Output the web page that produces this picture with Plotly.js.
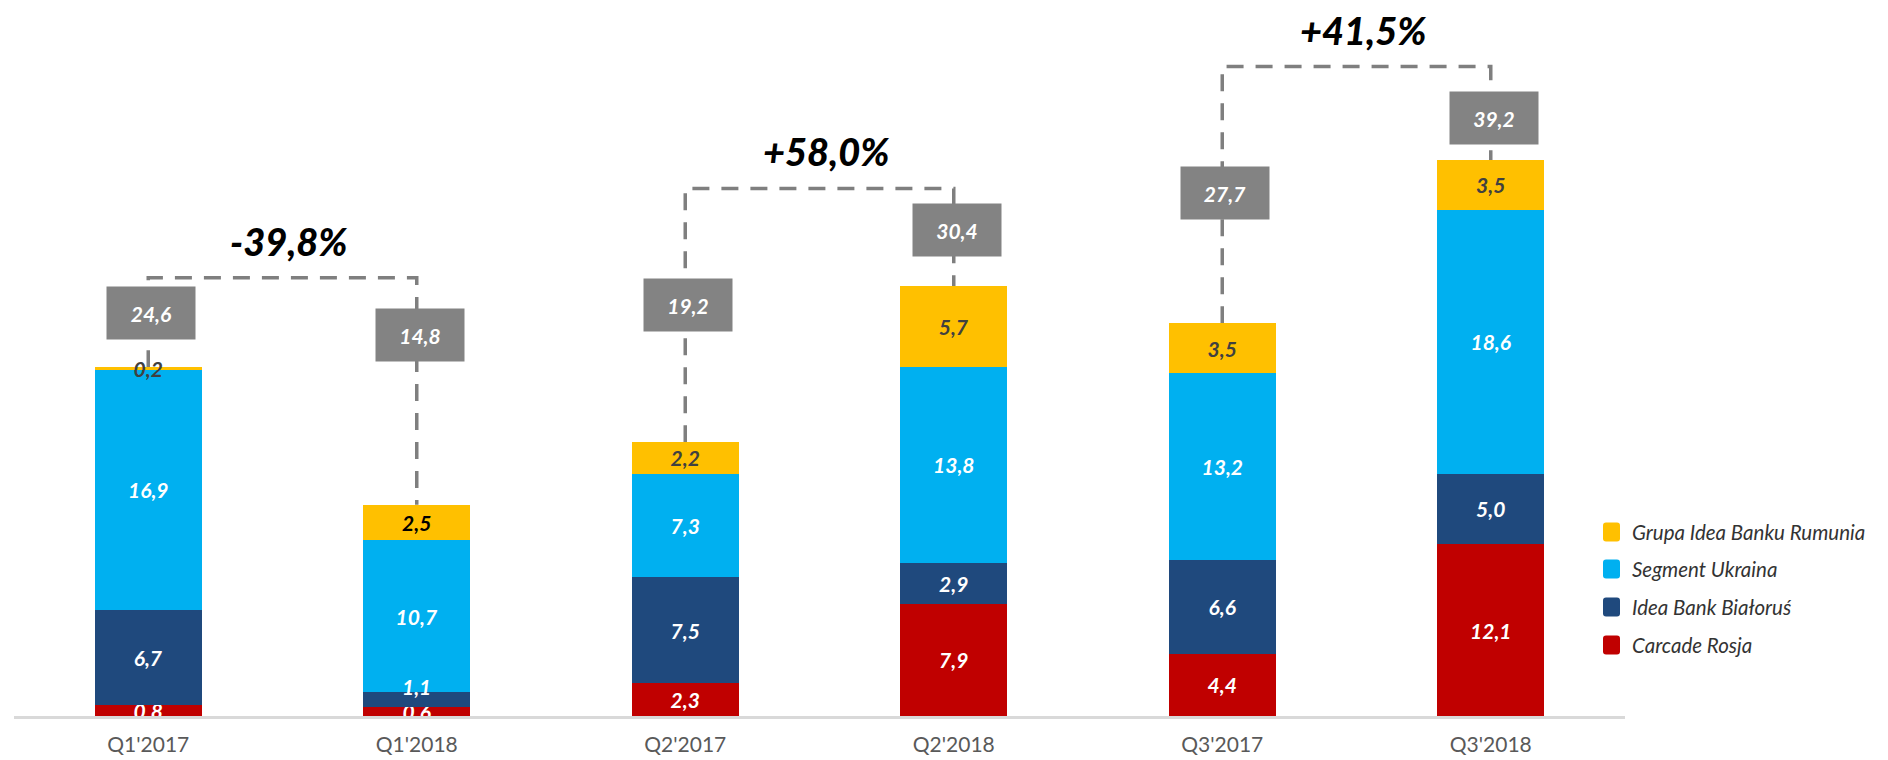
<!DOCTYPE html>
<html><head><meta charset="utf-8">
<script src="https://cdn.plot.ly/plotly-3.0.1.min.js"></script>
<style>html,body{margin:0;padding:0;background:#fff}</style>
</head><body><div id="chart" style="width:1888px;height:760px"></div>
<script>
// ---- data ----
const categories = ["Q1'2017", "Q1'2018", "Q2'2017", "Q2'2018", "Q3'2017", "Q3'2018"];
const carcadeRosja = [0.8, 0.6, 2.3, 7.9, 4.4, 12.1];
const ideaBankBialorus = [6.7, 1.1, 7.5, 2.9, 6.6, 5.0];
const segmentUkraina = [16.9, 10.7, 7.3, 13.8, 13.2, 18.6];
const grupaRumunia = [0.2, 2.5, 2.2, 5.7, 3.5, 3.5];
const totals = [24.6, 14.8, 19.2, 30.4, 27.7, 39.2];
const changePairs = [[0, 1], [2, 3], [4, 5]];
const changePct = [-39.8, 58.0, 41.5];
const seriesNames = ['Carcade Rosja', 'Idea Bank Białoruś', 'Segment Ukraina', 'Grupa Idea Banku Rumunia'];

// ---- layout positions / styles ----
const colors = ['#C00000', '#1F497D', '#00B0F0', '#FFC000'];
const labelColors = [['#fff'], ['#fff'], ['#fff'], ['#404040', '#000000', '#404040', '#404040', '#404040', '#404040']];
const labelShiftPx = [[0,0,0,0,0,0], [0,13,0,0,0,0], [0,0,0,0,0,0], [0,0,0,0,0,0]];
const boxY = [28.4, 26.9, 29.0, 34.3, 36.9, 42.2];
const bracketY = [30.9, 37.2, 45.8];
const FONT = 'Lato, "Open Sans", sans-serif';

const fmt = v => v.toFixed(1).replace('.', ',');
const seriesValues = [carcadeRosja, ideaBankBialorus, segmentUkraina, grupaRumunia];
const labelFont = (s, i) => ({family: FONT, size: 21, weight: 700, style: 'italic',
  color: labelColors[s].length > 1 ? labelColors[s][i] : labelColors[s][0]});

const shapes = [];
const annotations = [];

const traces = seriesValues.map((vals, s) => ({
  type: 'bar',
  name: seriesNames[s],
  x: categories,
  y: vals,
  text: vals.map((v, i) => labelShiftPx[s][i] ? '' : fmt(v)),
  textposition: 'inside',
  insidetextanchor: 'middle',
  textangle: 0,
  constraintext: 'none',
  insidetextfont: {family: FONT, size: 21, weight: 700, style: 'italic',
    color: labelColors[s].length > 1 ? labelColors[s] : labelColors[s][0]},
  marker: {color: colors[s], line: {width: 0}},
  hoverinfo: 'skip',
  showlegend: false
}));

// shifted segment labels (placed from the stacked data)
seriesValues.forEach((vals, s) => {
  vals.forEach((v, i) => {
    if (!labelShiftPx[s][i]) return;
    let base = 0;
    for (let k = 0; k < s; k++) base += seriesValues[k][i];
    annotations.push({xref: 'x', yref: 'y', x: categories[i], y: base + v / 2, yshift: labelShiftPx[s][i],
      text: fmt(v), showarrow: false, font: labelFont(s, i)});
  });
});

const barTop = categories.map((c, i) => seriesValues.reduce((a, v) => a + v[i], 0));
const dashLine = {color: '#7F7F7F', width: 3.5, dash: '17px,12px'};

changePairs.forEach((p, k) => {
  const [a, b] = p;
  shapes.push({
    type: 'path', xref: 'x', yref: 'y', layer: 'below',
    path: `M ${a},${barTop[a]} L ${a},${bracketY[k]} L ${b},${bracketY[k]} L ${b},${barTop[b]}`,
    line: dashLine
  });
  const pct = changePct[k];
  annotations.push({
    xref: 'x', yref: 'y', x: (a + b) / 2, y: bracketY[k], yshift: 37, xshift: 6,
    text: (pct > 0 ? '+' : '') + fmt(pct) + '%', showarrow: false,
    font: {family: FONT, size: 38, weight: 900, style: 'italic', color: '#000'}
  });
});

totals.forEach((t, i) => {
  annotations.push({
    xref: 'x', yref: 'y', x: i, y: boxY[i], xshift: 3,
    text: fmt(t), showarrow: false, width: 88, height: 52, borderpad: 0,
    bgcolor: '#838383', valign: 'middle',
    font: {family: FONT, size: 21, weight: 700, style: 'italic', color: '#fff'}
  });
});

// custom legend (top to bottom: last series first)
const legX = (1611.5 - 14) / 1611;
const legTextX = (1630 - 14) / 1611;
const legYpx = [532, 569, 607, 645];
const sq = 'M -5.5,-9.5 H 5.5 Q 8.5,-9.5 8.5,-6.5 V 6.5 Q 8.5,9.5 5.5,9.5 H -5.5 Q -8.5,9.5 -8.5,6.5 V -6.5 Q -8.5,-9.5 -5.5,-9.5 Z';
[3, 2, 1, 0].forEach((s, j) => {
  const yp = (716 - legYpx[j]) / 716;
  shapes.push({type: 'path', xref: 'paper', yref: 'paper', xsizemode: 'pixel', ysizemode: 'pixel',
    xanchor: legX, yanchor: yp, path: sq, fillcolor: colors[s], line: {width: 0}});
  annotations.push({xref: 'paper', yref: 'paper', x: legTextX, y: yp, xanchor: 'left', yanchor: 'middle',
    text: seriesNames[s], showarrow: false,
    font: {family: FONT, size: 20.5, style: 'italic', color: '#333'}});
});

const layout = {
  width: 1888, height: 760,
  margin: {l: 14, r: 263, t: 0, b: 44, pad: 0},
  paper_bgcolor: '#fff', plot_bgcolor: '#fff',
  barmode: 'stack', bargap: 0.6,
  showlegend: false,
  xaxis: {type: 'category', showline: true, linecolor: '#D9D9D9', linewidth: 3,
    ticks: 'outside', ticklen: 8, tickcolor: 'rgba(0,0,0,0)', showgrid: false, zeroline: false,
    tickfont: {family: FONT, size: 21, color: '#595959'}, fixedrange: true},
  yaxis: {range: [0, 50.49], visible: false, showgrid: false, zeroline: false, fixedrange: true},
  shapes: shapes,
  annotations: annotations
};

Plotly.newPlot('chart', traces, layout, {displayModeBar: false, staticPlot: true});
</script></body></html>
